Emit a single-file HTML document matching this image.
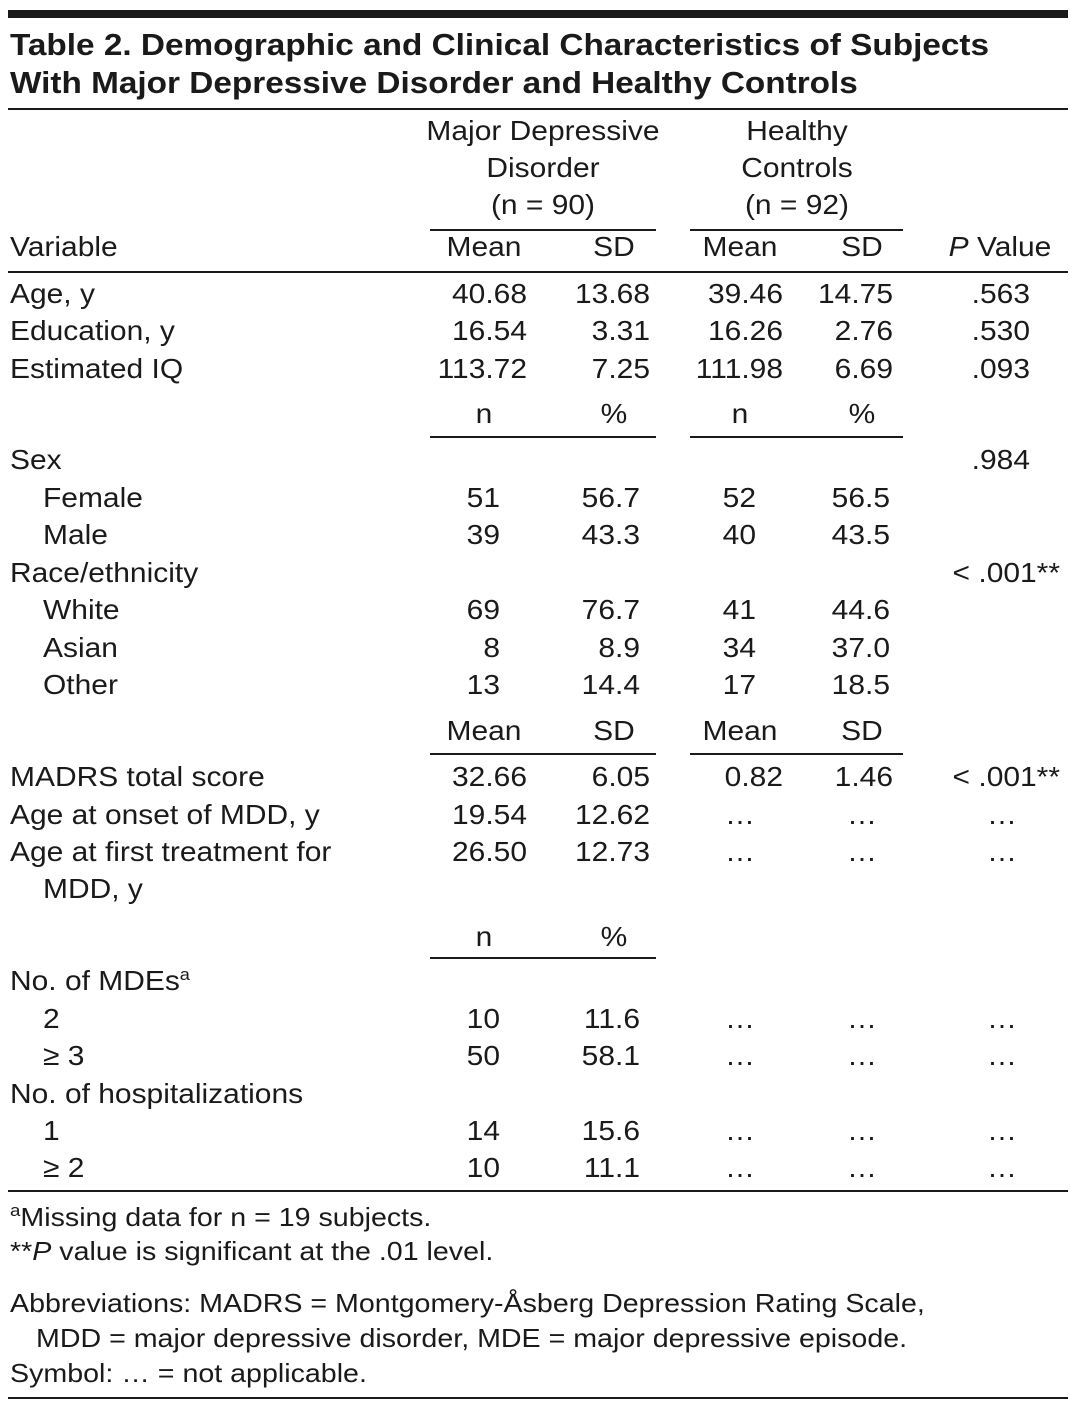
<!DOCTYPE html>
<html><head><meta charset="utf-8">
<style>
html,body{margin:0;padding:0;background:#fff;}
body{width:1076px;height:1411px;position:relative;overflow:hidden;font-family:"Liberation Sans",sans-serif;color:#1a1a1a;}
.t{position:absolute;font-size:28px;line-height:34px;height:34px;white-space:nowrap;}
.l{transform:scaleX(1.07);transform-origin:left center;}
.r{text-align:right;width:600px;transform:scaleX(1.07);transform-origin:right center;}
.c{text-align:center;width:600px;transform:scaleX(1.07);transform-origin:center center;}
.fn{transform:scaleX(1.1);}
.rule{position:absolute;background:#1a1a1a;height:2px;}
.title{position:absolute;left:10px;font-weight:bold;font-size:31px;line-height:38px;white-space:nowrap;transform:scaleX(1.075);transform-origin:left center;}
sup{font-size:17px;vertical-align:top;line-height:17px;position:relative;top:2px;}
</style></head>
<body>
<div class="rule" style="left:8px;top:10px;width:1060px;height:8px"></div>
<div class="title" style="top:26px">Table 2. Demographic and Clinical Characteristics of Subjects</div>
<div class="title" style="top:64px">With Major Depressive Disorder and Healthy Controls</div>
<div class="rule" style="left:8px;top:108px;width:1060px"></div>
<div class="rule" style="left:430px;top:229px;width:226px"></div>
<div class="rule" style="left:690px;top:229px;width:213px"></div>
<div class="rule" style="left:8px;top:271px;width:1060px"></div>
<div class="rule" style="left:430px;top:436px;width:226px"></div>
<div class="rule" style="left:690px;top:436px;width:213px"></div>
<div class="rule" style="left:430px;top:753px;width:226px"></div>
<div class="rule" style="left:690px;top:753px;width:213px"></div>
<div class="rule" style="left:430px;top:957px;width:226px"></div>
<div class="rule" style="left:8px;top:1190px;width:1060px"></div>
<div class="rule" style="left:8px;top:1397px;width:1060px"></div>
<script>
const rowY = [294,331,369,460,498,535,573,610,648,685,777,815,852,889,981,1019,1056,1094,1131,1168];
const rowLabels = ["Age, y","Education, y","Estimated IQ","Sex","Female","Male","Race/ethnicity","White","Asian","Other","MADRS total score","Age at onset of MDD, y","Age at first treatment for","MDD, y","No. of MDEs<sup>a</sup>","2","≥ 3","No. of hospitalizations","1","≥ 2"];
const rowIndent = [0,0,0,0,1,1,0,1,1,1,0,0,0,1,0,1,1,0,1,1];
const mddA = ["40.68","16.54","113.72","","51","39","","69","8","13","32.66","19.54","26.50","","","10","50","","14","10"];
const mddB = ["13.68","3.31","7.25","","56.7","43.3","","76.7","8.9","14.4","6.05","12.62","12.73","","","11.6","58.1","","15.6","11.1"];
const hcA = ["39.46","16.26","111.98","","52","40","","41","34","17","0.82","…","…","","","…","…","","…","…"];
const hcB = ["14.75","2.76","6.69","","56.5","43.5","","44.6","37.0","18.5","1.46","…","…","","","…","…","","…","…"];
const pVals = [".563",".530",".093",".984","","","< .001**","","","","< .001**","…","…","","","…","…","","…","…"];
const isMean = [1,1,1,0,0,0,0,0,0,0,1,1,1,0,0,0,0,0,0,0];

function cell(html, x, y, align){
  const el=document.createElement('div');
  el.className='t '+align;
  el.innerHTML=html;
  if(align==='l'){el.style.left=x+'px';}
  else if(align==='r'){el.style.left=(x-600)+'px';}
  else {el.style.left=(x-300)+'px';}
  el.style.top=(y-17)+'px';
  document.body.appendChild(el);
  return el;
}
let e;
e=cell("Major Depressive",543,131,'c');


e=cell("Disorder",543,168,'c');


e=cell("(n = 90)",543,205,'c');


e=cell("Healthy",797,131,'c');


e=cell("Controls",797,168,'c');


e=cell("(n = 92)",797,205,'c');


e=cell("Variable",10,247,'l');


e=cell("<i>P</i> Value",1000,247,'c');


const subHeads=[[247,"Mean","SD"],[414,"n","%"],[731,"Mean","SD"],[937,"n","%"]];
subHeads.forEach((s,k)=>{
  e=cell(s[1],484,s[0],'c');
  
  
  e=cell(s[2],614,s[0],'c');
  
  
  if(k<3){
    e=cell(s[1],740,s[0],'c');
    
    
    e=cell(s[2],862,s[0],'c');
    
    
  }
});
const centers=[484,614,740,862];
rowY.forEach((y,i)=>{
  e=cell(rowLabels[i],rowIndent[i]?43:10,y,'l');
  
  
  const m=isMean[i];
  const cols=[[mddA[i],m?527:500],[mddB[i],m?650:640],[hcA[i],m?783:756],[hcB[i],m?893:890]];
  cols.forEach((c,j)=>{
    if(!c[0])return;
    if(c[0]==="…") e=cell(c[0],centers[j],y,'c');
    else e=cell(c[0],c[1],y,'r');
    
    
  });
  if(pVals[i]){
    const p=pVals[i];
    if(p==="…") e=cell(p,1002,y,'c');
    else if(p.indexOf('**')>=0) e=cell(p,1060,y,'r');
    else e=cell(p,1030,y,'r');
    
    
  }
});
const notes=[[1217,10,"<sup>a</sup>Missing data for n = 19 subjects."],[1251,10,"**<i>P</i> value is significant at the .01 level."],[1303,10,"Abbreviations: MADRS = Montgomery-Åsberg Depression Rating Scale,"],[1338,36,"MDD = major depressive disorder, MDE = major depressive episode."],[1373,10,"Symbol: … = not applicable."]];
notes.forEach(n=>{
  e=cell(n[2],n[1],n[0],'l');
  e.classList.add('fn');
  e.style.fontSize='26px';
  
  
});
</script>
</body></html>
